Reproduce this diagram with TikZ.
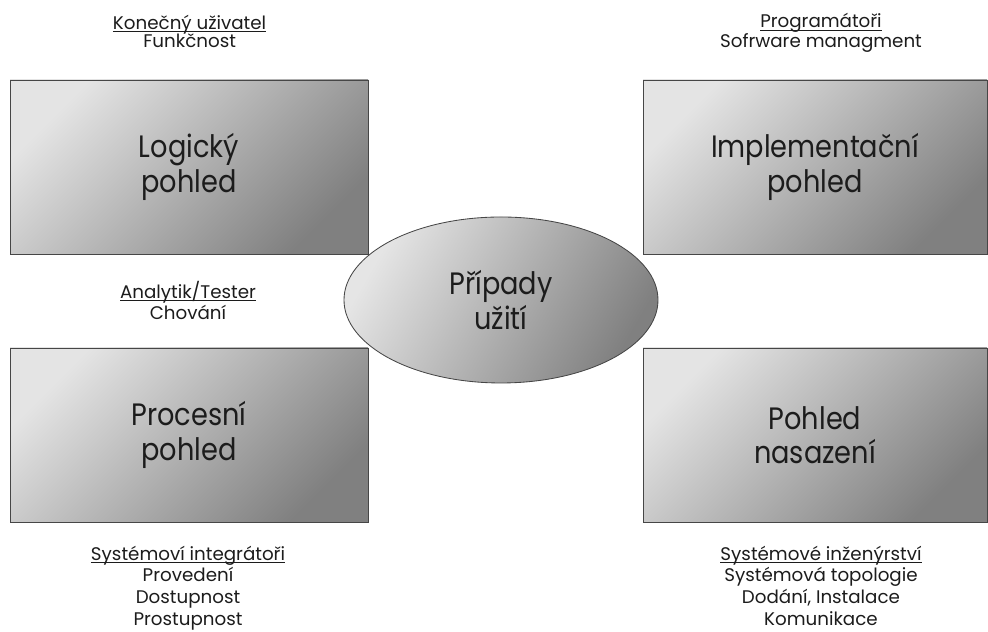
\documentclass[tikz,border=0pt]{standalone}
\usepackage{fontspec}
\setmainfont{Poppins}
\newfontfamily\viewfont[FakeStretch=0.88]{Poppins}
\usetikzlibrary{shapes.geometric}
\definecolor{ViewLight}{RGB}{228, 228, 228}
\definecolor{ViewDark}{RGB}{128, 128, 128}
\definecolor{ViewEdge}{RGB}{70, 70, 70}
\definecolor{ViewText}{RGB}{28, 28, 28}

% underlined role name, line just under the baseline
\newcommand{\rolename}[1]{\leavevmode\setbox0=\hbox{#1}\rlap{\rule[-1.8pt]{\wd0}{0.5pt}}\box0}

\tikzset{
  viewbox/.style={rectangle, draw=ViewEdge, line width=0.6pt, inner sep=0pt,
    top color=ViewLight, bottom color=ViewDark, shading angle=45,
    align=center, text=ViewText, font=\viewfont\fontsize{22}{24.5}\selectfont},
  rolelabel/.style={align=center, anchor=base, inner sep=0pt, text=ViewText,
    font=\fontsize{13}{15.4}\selectfont}
}

\begin{document}
\begin{tikzpicture}

\useasboundingbox (0,0) rectangle (24.7,15.8);

% The four views
\node[viewbox, minimum width=8.95cm, minimum height=4.35cm] (logical) at (4.725,11.625) {Logický\\pohled};
\node[viewbox, minimum width=8.6cm, minimum height=4.35cm] (implement) at (20.375,11.625) {Implementační\\pohled};
\node[viewbox, minimum width=8.95cm, minimum height=4.35cm] (process) at (4.725,4.925) {Procesní\\pohled};
\node[viewbox, minimum width=8.6cm, minimum height=4.35cm] (deploy) at (20.375,4.925) {Pohled\\nasazení};

% Use cases in the middle
\node[ellipse, draw=ViewEdge, line width=0.6pt, inner sep=0pt,
  minimum width=7.85cm, minimum height=4.15cm,
  top color=ViewLight!95!white, bottom color=ViewDark, shading angle=60,
  align=center, text=ViewText, font=\viewfont\fontsize{22}{24.5}\selectfont] (usecase) at (12.525,8.3) {Případy\\užití};

% Stakeholders and concerns (anchored on the last line)
\node[rolelabel, font=\fontsize{13}{13.2}\selectfont] (enduser) at (4.74,14.6) {\rolename{Konečný uživatel}\\Funkčnost};
\node[rolelabel, font=\fontsize{13}{13.2}\selectfont] (programmer) at (20.525,14.6) {\rolename{Programátoři}\\Sofrware managment};
\node[rolelabel] (analyst) at (4.7,7.8) {\rolename{Analytik/Tester}\\Chování};
\node[rolelabel] (integrator) at (4.7,0.17) {\rolename{Systémoví integrátoři}\\Provedení\\Dostupnost\\Prostupnost};
\node[rolelabel] (engineer) at (20.525,0.17) {\rolename{Systémové inženýrství}\\Systémová topologie\\Dodání, Instalace\\Komunikace};

\end{tikzpicture}
\end{document}
